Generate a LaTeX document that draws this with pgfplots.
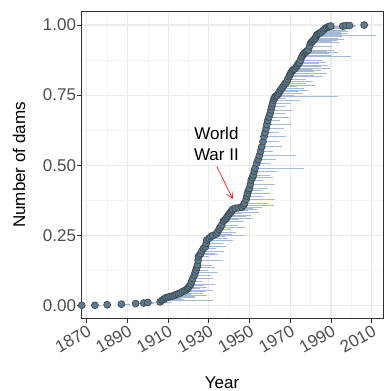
\documentclass[border=0pt]{standalone}
\usepackage{fontspec}
\setmainfont{Liberation Sans}
\usepackage{pgfplots}
\pgfplotsset{compat=1.18}
\usepackage{pgfplotstable}
\usetikzlibrary{arrows.meta}
\definecolor{ptfill}{RGB}{95,121,136}
\definecolor{ptdraw}{RGB}{55,70,80}
\definecolor{linecol}{RGB}{165,186,216}
\definecolor{gridmaj}{RGB}{235,235,235}
\definecolor{gridmin}{RGB}{244,244,244}
\definecolor{ticklab}{RGB}{77,77,77}
\definecolor{bordercol}{RGB}{51,51,51}

\pgfplotstableread{
x y len
1867.5 0.000 0
1874 0.000 3
1880 0.002 2
1887 0.004 4
1894 0.006 3
1898 0.008 5
1900 0.010 4
1906 0.012 6
1907 0.018 25
1907.7 0.021 10
1908.5 0.025 8
1909 0.027 14
1910 0.029 6
1911 0.031 12
1912 0.033 9
1913 0.035 16
1914 0.039 7
1915 0.041 12
1916 0.044 5
1917 0.049 11
1918 0.052 8
1918.8 0.055 13
1919.5 0.060 6
1920 0.064 9
1920.6 0.070 7
1921.1 0.076 12
1921.6 0.086 5
1922.1 0.096 10
1922.9 0.108 8
1923.3 0.117 11
1923.7 0.126 6
1924.1 0.135 9
1924.4 0.144 7
1924.7 0.160 12
1924.9 0.174 5
1925.5 0.180 9
1926 0.185 7
1926.6 0.194 11
1927.3 0.203 6
1928.3 0.209 10
1928.7 0.221 8
1929 0.233 13
1930.1 0.239 9
1931 0.245 7
1931.9 0.249 16
1933.6 0.254 8
1934.3 0.262 9
1935 0.271 6
1935.7 0.279 12
1936.3 0.287 8
1937.2 0.301 10
1937.8 0.305 7
1938.5 0.310 13
1939 0.316 9
1939.6 0.322 11
1940.2 0.328 6
1940.8 0.333 14
1941.2 0.338 8
1941.7 0.342 12
1942.9 0.346 9
1944.5 0.348 7
1946.2 0.350 10
1947 0.357 15
1947.5 0.364 12
1948.3 0.378 14
1948.7 0.390 8
1949 0.400 11
1949.5 0.410 7
1949.9 0.417 9
1950.4 0.432 12
1950.8 0.447 6
1951.4 0.456 10
1951.9 0.465 8
1952.3 0.478 11
1952.7 0.489 24
1953.5 0.507 7
1954.2 0.520 9
1954.8 0.534 18
1955.4 0.550 6
1956 0.566 10
1956.6 0.584 8
1957.1 0.602 11
1957.6 0.616 7
1958.1 0.631 9
1958.5 0.645 12
1958.9 0.659 6
1959.5 0.672 10
1960.1 0.685 8
1960.5 0.697 11
1960.9 0.709 7
1961.3 0.720 9
1961.7 0.732 13
1962.1 0.738 6
1962.5 0.744 31
1963.1 0.747 10
1963.7 0.750 8
1964.2 0.756 12
1964.7 0.762 9
1965.2 0.768 14
1965.8 0.774 11
1966.4 0.780 7
1967 0.786 15
1967.6 0.792 10
1968.3 0.798 13
1968.8 0.807 9
1969.4 0.816 16
1969.8 0.822 12
1970.2 0.828 18
1970.7 0.834 11
1971.2 0.839 14
1971.8 0.842 9
1972.4 0.845 17
1973 0.851 12
1973.5 0.857 15
1974 0.862 10
1974.5 0.866 13
1975 0.875 11
1975.7 0.887 24
1976.2 0.893 14
1976.8 0.899 12
1977.3 0.902 16
1977.8 0.905 10
1978.3 0.908 13
1978.9 0.911 9
1979.5 0.925 11
1980.1 0.937 14
1980.6 0.940 10
1981.1 0.944 12
1981.6 0.948 15
1982.2 0.952 11
1982.6 0.958 13
1983 0.964 29
1983.6 0.967 12
1984.2 0.970 14
1984.8 0.973 10
1985.5 0.976 13
1986.3 0.982 11
1987.1 0.988 12
1988 0.991 9
1988.8 0.994 10
1989.4 0.995 7
1989.9 0.996 8
1995.8 0.996 6
1997.4 0.998 4
1999.1 0.998 3
2006.3 1.000 0
}\dams

\begin{document}
\begin{tikzpicture}
\useasboundingbox (0,0) rectangle (385pt,391pt);
\begin{axis}[
  at={(81.7pt,72.7pt)}, anchor=south west,
  scale only axis, width=301.8pt, height=306.6pt,
  xmin=1867.5, xmax=2015.8, ymin=-0.0464, ymax=1.0475,
  xtick={1870,1890,1910,1930,1950,1970,1990,2010},
  minor xtick={1880,1900,1920,1940,1960,1980,2000},
  ytick={0,0.25,0.5,0.75,1},
  minor ytick={0.125,0.375,0.625,0.875},
  grid=both,
  major grid style={color=gridmaj, line width=1.1pt},
  minor grid style={color=gridmin, line width=0.6pt},
  tick align=outside, major tick length=4.5pt, minor tick length=0pt,
  xtick pos=bottom, ytick pos=left,
  tick style={color=bordercol, line width=0.8pt},
  axis line style={draw=bordercol, line width=0.8pt},
  /pgf/number format/assume math mode=true,
  xticklabel style={/pgf/number format/1000 sep={}, rotate=30, anchor=north east, inner sep=1pt},
  yticklabel style={/pgf/number format/.cd, fixed, fixed zerofill, precision=2, /tikz/.cd, inner sep=1pt},
  ticklabel style={font=\fontsize{17}{20}\selectfont, color=ticklab},
  xlabel={Year},
  xlabel style={at={(axis description cs:0.465,-0.1905)}, anchor=north, inner sep=0pt, font=\fontsize{17}{20}\selectfont},
  ylabel={Number of dams},
  ylabel style={at={(axis description cs:-0.2076,0.5)}, anchor=center, inner sep=0pt, font=\fontsize{17}{20}\selectfont},
]
\addplot[only marks, mark=none,
  error bars/.cd, x dir=plus, x explicit, error mark=none,
  error bar style={color=linecol, line width=0.7pt}]
  table[x=x, y=y, x error=len]{\dams};
\addplot[only marks, mark=*, mark size=3.5pt,
  mark options={fill=ptfill, draw=ptdraw, line width=0.6pt}]
  table[x=x, y=y]{\dams};
\node[align=center, inner sep=0pt, font=\fontsize{17}{21}\selectfont] at (axis cs:1933.7,0.577) {World\\War II};
\draw[red, line width=0.6pt, -{Straight Barb[length=6pt, width=7pt]}] (axis cs:1933.9,0.495) -- (axis cs:1941.7,0.380);
\end{axis}
\end{tikzpicture}
\end{document}
